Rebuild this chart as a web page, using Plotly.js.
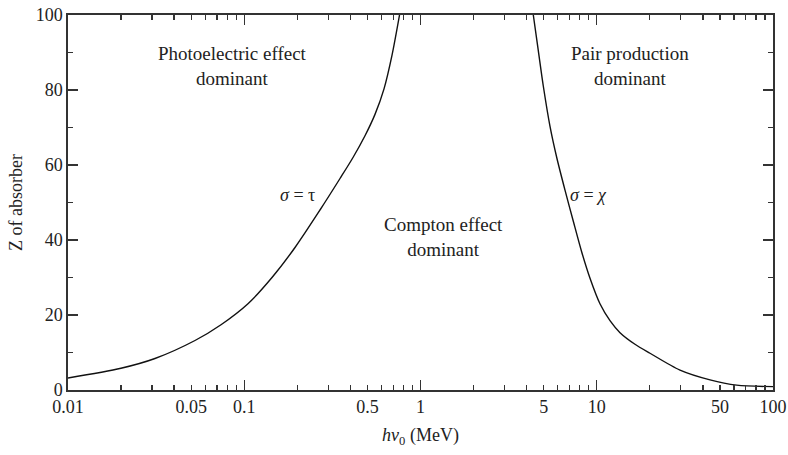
<!DOCTYPE html>
<html>
<head>
<meta charset="utf-8">
<script src="https://cdn.plot.ly/plotly-3.0.1.min.js"></script>
<style>html,body{margin:0;padding:0;background:#fff;}#chart{width:788px;height:455px;}</style>
</head>
<body>
<div id="chart"></div>
<script>
// sigma = tau boundary (photoelectric = Compton)
const tauEnergy = [0.01, 0.01998, 0.03115, 0.05254, 0.07381, 0.1050, 0.1437, 0.1941, 0.2690, 0.3494, 0.4140, 0.4842, 0.5518, 0.6208, 0.6894, 0.7603];
const tauZ      = [3.2,  5.8,     8.4,     13.2,    17.4,    23.0,   30.0,   38.0,   48.0,   56.4,   62.0,   67.8,   73.5,   80.3,   89.3,   100];
// sigma = chi boundary (pair production = Compton)
const chiEnergy = [4.365, 4.660, 4.976, 5.430, 5.928, 6.605, 7.362, 8.216, 9.157, 10.43, 11.89, 13.55, 16.48, 20.05, 29.67, 43.92, 62.23, 100];
const chiZ      = [100,   90.5,  81.0,  70.3,  62.0,  53.3,  45.0,  36.8,  29.8,  23.0,  18.5,  15.3,  12.2,  9.8,   5.3,   2.7,   1.3,   0.9];

// axis ticks
const xTickVals = [0.01,0.02,0.03,0.04,0.05,0.06,0.07,0.08,0.09,
                   0.1,0.2,0.3,0.4,0.5,0.6,0.7,0.8,0.9,
                   1,2,3,4,5,6,7,8,9,
                   10,20,30,40,50,60,70,80,90,100];
const xTickText = ['0.01','','','','0.05','','','','',
                   '0.1','','','','0.5','','','','',
                   '1','','','','5','','','','',
                   '10','','','','50','','','','','100'];
const xDecades = [0.01, 0.1, 1, 10, 100];

const regionLabels = ['Photoelectric effect<br>dominant', 'Pair production<br>dominant', 'Compton effect<br>dominant'];
const curveLabels = ['<i>σ</i> = τ', '<i>σ</i> = <i>χ</i>'];

const family = '"Liberation Serif", "Times New Roman", serif';
const font = {family: family, size: 18, color: '#222'};
const labelFont = {family: family, size: 19, color: '#222'};
const axisColor = '#333';

const curveLine = {color: '#111', width: 1.4, shape: 'spline', smoothing: 0.8};
const data = [
  {x: tauEnergy, y: tauZ, type: 'scatter', mode: 'lines', line: curveLine, hoverinfo: 'skip'},
  {x: chiEnergy, y: chiZ, type: 'scatter', mode: 'lines', line: curveLine, hoverinfo: 'skip'},
  {x: [], y: [], xaxis: 'x2', yaxis: 'y', type: 'scatter', mode: 'lines', showlegend: false}
];

const layout = {
  width: 788, height: 455,
  margin: {l: 68, r: 15, t: 15, b: 65},
  paper_bgcolor: '#fff', plot_bgcolor: '#fff',
  showlegend: false,
  font: font,
  xaxis: {
    type: 'log', range: [-2, 2],
    tickmode: 'array', tickvals: xTickVals, ticktext: xTickText,
    ticks: 'inside', ticklen: 5, tickwidth: 1.3, tickcolor: axisColor,
    showline: true, linecolor: axisColor, linewidth: 1.6, mirror: 'ticks',
    showgrid: false, zeroline: false,
    tickfont: font,
    title: {text: '<i>hν</i><sub>0</sub> (MeV)', font: font, standoff: 12}
  },
  xaxis2: {
    type: 'log', range: [-2, 2], overlaying: 'x', anchor: 'y', side: 'bottom',
    tickmode: 'array', tickvals: xDecades,
    ticks: 'inside', ticklen: 10, tickwidth: 1.3, tickcolor: axisColor,
    showticklabels: false, showline: false, mirror: 'ticks',
    showgrid: false, zeroline: false
  },
  yaxis: {
    range: [0, 100], tickmode: 'linear', tick0: 0, dtick: 20,
    ticks: 'inside', ticklen: 10, tickwidth: 1.3, tickcolor: axisColor,
    minor: {dtick: 10, ticks: 'inside', ticklen: 5, tickwidth: 1.3, tickcolor: axisColor},
    showline: true, linecolor: axisColor, linewidth: 1.6, mirror: 'ticks',
    showgrid: false, zeroline: false,
    tickfont: font,
    title: {text: 'Z of absorber', font: font, standoff: 8}
  },
  annotations: [
    {text: regionLabels[0], xref: 'paper', yref: 'paper', x: 0.233, y: 0.864, xanchor: 'center', yanchor: 'middle', showarrow: false, font: labelFont, align: 'center'},
    {text: regionLabels[1], xref: 'paper', yref: 'paper', x: 0.797, y: 0.864, xanchor: 'center', yanchor: 'middle', showarrow: false, font: labelFont, align: 'center'},
    {text: regionLabels[2], xref: 'paper', yref: 'paper', x: 0.532, y: 0.408, xanchor: 'center', yanchor: 'middle', showarrow: false, font: labelFont, align: 'center'},
    {text: curveLabels[0], xref: 'paper', yref: 'paper', x: 0.325, y: 0.52, xanchor: 'center', yanchor: 'middle', showarrow: false, font: font},
    {text: curveLabels[1], xref: 'paper', yref: 'paper', x: 0.739, y: 0.52, xanchor: 'center', yanchor: 'middle', showarrow: false, font: font}
  ]
};

Plotly.newPlot('chart', data, layout, {staticPlot: true, displayModeBar: false});
</script>
</body>
</html>
